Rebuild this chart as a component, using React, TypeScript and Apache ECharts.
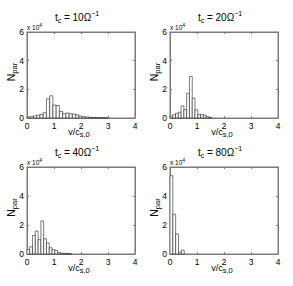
import React, { useEffect, useRef } from 'react';
import * as echarts from 'echarts';

// Collision times (units of Ω^-1) for the four panels
const collisionTimes = ['10', '20', '40', '80'];
// Histogram bin widths (in v/c_s,0), bins start at 0
const binWidths = [0.12, 0.103, 0.103, 0.105];
// Particle counts per bin
const counts10 = [700, 1000, 1500, 2000, 2500, 3700, 13400, 15500, 9000, 8700, 4600, 3000, 3500, 3000, 2700, 2200, 1400, 1000, 700, 500, 400, 300, 200, 200, 100];
const counts20 = [1200, 2300, 3300, 4000, 8500, 5800, 17300, 29000, 13800, 5700, 2300, 2500, 2000, 1000, 300];
const counts40 = [3000, 5000, 12800, 15800, 9900, 22800, 10500, 7700, 4300, 3000, 2500, 1000, 600, 500, 300, 200];
const counts80 = [54000, 27500, 13800, 1300, 2700];
const allCounts = [counts10, counts20, counts40, counts80];

const xTicks = [0, 1, 2, 3, 4];
const yTicks = [0, 20000, 40000, 60000];

const FONT = '"Liberation Sans", Arial, Helvetica, sans-serif';
const FRAME = '#7a7a7a';

const layout = [
  { left: 27, top: 32, width: 108, height: 86 },
  { left: 170, top: 32, width: 108, height: 86 },
  { left: 27, top: 167, width: 108, height: 87 },
  { left: 170, top: 167, width: 108, height: 87 },
];

export default function App() {
  const ref = useRef<HTMLDivElement>(null);
  useEffect(() => {
    if (!ref.current) return;
    const chart = echarts.init(ref.current, null, { renderer: 'svg' });
    const grid: any[] = [];
    const xAxis: any[] = [];
    const yAxis: any[] = [];
    const series: any[] = [];
    const graphic: any[] = [];

    layout.forEach((g, i) => {
      grid.push({ ...g, show: true, borderColor: FRAME, borderWidth: 1, backgroundColor: '#fff' });
      const xBase = {
        type: 'value', gridIndex: i, min: xTicks[0], max: xTicks[xTicks.length - 1], interval: 1,
        splitLine: { show: false },
        axisLine: { show: true, onZero: false, lineStyle: { color: FRAME, width: 1 } },
        axisTick: { show: true, inside: true, length: 2, lineStyle: { color: FRAME } },
      };
      xAxis.push({
        ...xBase, position: 'bottom',
        axisLabel: { show: true, fontSize: 8.5, color: '#000', fontFamily: FONT, margin: 3 },
      });
      xAxis.push({ ...xBase, position: 'top', axisLabel: { show: false } });
      const yBase = {
        type: 'value', gridIndex: i, min: yTicks[0], max: yTicks[yTicks.length - 1], interval: 20000,
        splitLine: { show: false },
        axisLine: { show: true, onZero: false, lineStyle: { color: FRAME, width: 1 } },
        axisTick: { show: true, inside: true, length: 2, lineStyle: { color: FRAME } },
      };
      yAxis.push({
        ...yBase, position: 'left',
        axisLabel: { show: true, fontSize: 8.5, color: '#000', fontFamily: FONT, margin: 3, formatter: (v: number) => String(v / 10000) },
      });
      yAxis.push({ ...yBase, position: 'right', axisLabel: { show: false } });

      const w = binWidths[i];
      const data = allCounts[i].map((c, k) => [k * w, (k + 1) * w, c]);
      series.push({
        type: 'custom',
        xAxisIndex: 2 * i,
        yAxisIndex: 2 * i,
        data,
        encode: { x: [0, 1], y: 2 },
        renderItem: (params: any, api: any) => {
          const p0 = api.coord([api.value(0), api.value(2)]);
          const p1 = api.coord([api.value(1), 0]);
          return {
            type: 'rect',
            shape: { x: p0[0], y: p0[1], width: p1[0] - p0[0], height: p1[1] - p0[1] },
            style: { fill: '#fff', stroke: '#222', lineWidth: 0.6 },
          };
        },
      });

      // Title t_c = XXΩ^-1
      graphic.push({
        type: 'text', x: g.left + g.width / 2 - 4, y: g.top - 15, z: 100,
        style: {
          text: `{m|t}{s|c}{m| = ${collisionTimes[i]}Ω}{p|−1}`,
          align: 'center', verticalAlign: 'middle', fill: '#000', fontFamily: FONT,
          rich: {
            m: { fontSize: 10, lineHeight: 14, fontFamily: FONT, fill: '#000' },
            s: { fontSize: 7, lineHeight: 6, verticalAlign: 'bottom', fontFamily: FONT, fill: '#000' },
            p: { fontSize: 7, lineHeight: 6, verticalAlign: 'top', fontFamily: FONT, fill: '#000' },
          },
        },
      });
      // multiplier x 10^4
      graphic.push({
        type: 'text', x: g.left, y: g.top - 0.5, z: 100,
        style: {
          text: '{m|x 10}{p|4}',
          align: 'left', verticalAlign: 'bottom', fill: '#000', fontFamily: FONT,
          rich: {
            m: { fontSize: 6.5, lineHeight: 9, fontFamily: FONT, fill: '#000' },
            p: { fontSize: 5, lineHeight: 5, verticalAlign: 'top', fontFamily: FONT, fill: '#000' },
          },
        },
      });
      // Y label N_par
      graphic.push({
        type: 'text', x: g.left - 16, y: g.top + g.height / 2 - 3, rotation: Math.PI / 2, z: 100,
        style: {
          text: '{m|N}{s|par}',
          align: 'center', verticalAlign: 'middle', fill: '#000', fontFamily: FONT,
          rich: {
            m: { fontSize: 10.5, lineHeight: 14, fontFamily: FONT, fill: '#000' },
            s: { fontSize: 7.5, lineHeight: 7, verticalAlign: 'bottom', fontFamily: FONT, fill: '#000' },
          },
        },
      });
      // X label v/c_s,0
      graphic.push({
        type: 'text', x: g.left + g.width / 2 - 2, y: g.top + g.height + 14, z: 100,
        style: {
          text: '{m|v/c}{s|s,0}',
          align: 'center', verticalAlign: 'middle', fill: '#000', fontFamily: FONT,
          rich: {
            m: { fontSize: 9, lineHeight: 12, fontFamily: FONT, fill: '#000' },
            s: { fontSize: 7.5, lineHeight: 6, verticalAlign: 'bottom', fontFamily: FONT, fill: '#000' },
          },
        },
      });
    });

    chart.setOption({
      animation: false,
      backgroundColor: '#fff',
      grid, xAxis, yAxis, series, graphic,
    });
    return () => chart.dispose();
  }, []);
  return <div ref={ref} style={{ position: 'fixed', left: 0, top: 0, width: 293, height: 286 }} />;
}
